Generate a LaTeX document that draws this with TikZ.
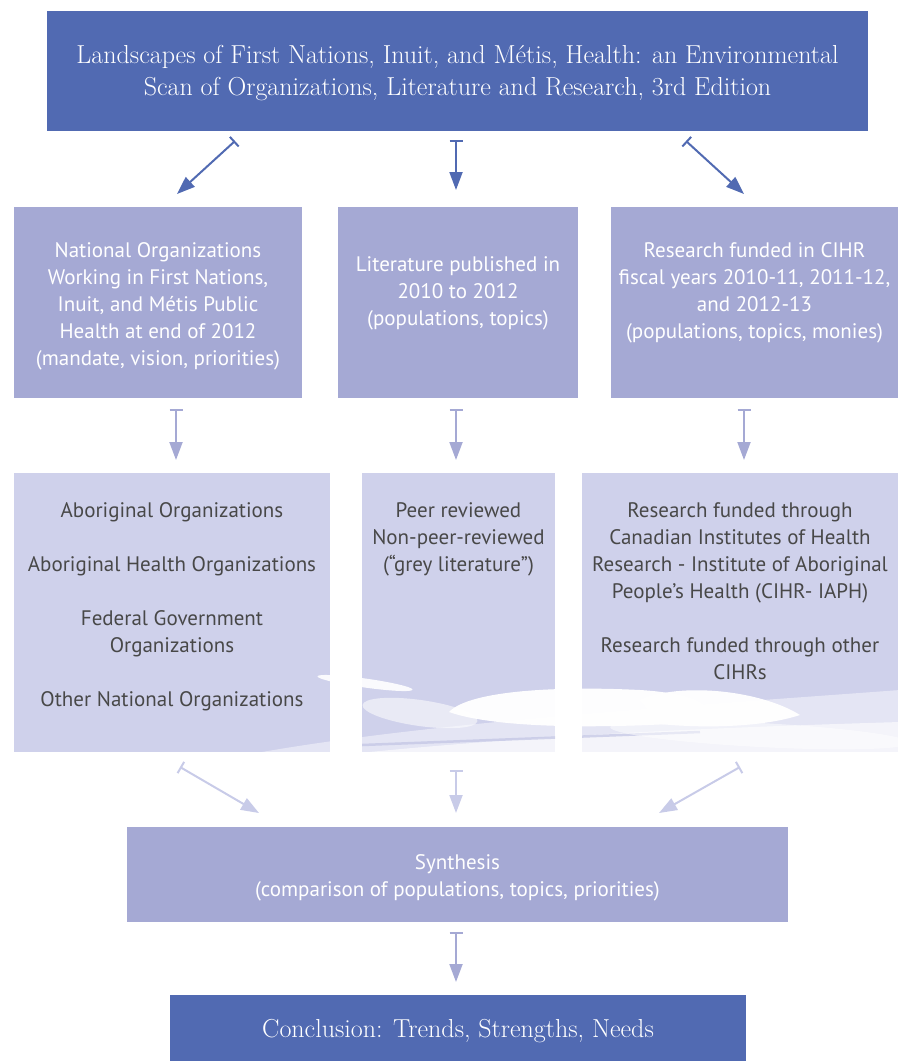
\documentclass[tikz,border=0pt]{standalone}
\usepackage{fontspec}
\setsansfont{PT Sans}
\usetikzlibrary{arrows.meta}
\definecolor{dkblue}{RGB}{81,106,178}
\definecolor{midblue}{RGB}{165,169,212}
\definecolor{ltblue}{RGB}{207,209,235}
\definecolor{palearrow}{RGB}{200,203,232}
\definecolor{txtgray}{RGB}{72,72,72}
\tikzset{
  boxr/.style={draw=none,inner sep=0pt,outer sep=0pt,rectangle},
  serift/.style={font=\fontsize{26}{32}\selectfont,text=white,align=center,inner sep=0pt},
  sanswhite/.style={font=\sffamily\fontsize{21}{27}\selectfont,text=white,align=center,inner sep=0pt},
  sansgray/.style={font=\sffamily\fontsize{21}{27}\selectfont,text=txtgray,align=center,inner sep=0pt},
  flowarrow/.style={line width=2pt,arrows={Bar[width=13pt]-Triangle[length=18pt,width=13pt]}},
}
\begin{document}
\begin{tikzpicture}[x=1pt,y=-1pt]
\useasboundingbox (0,0) rectangle (900,1061);
% boxes
\node[boxr,fill=dkblue,minimum width=821pt,minimum height=120pt,anchor=north west] (top) at (47,11) {};
\node[boxr,fill=midblue,minimum width=288pt,minimum height=191pt,anchor=north west] (l2) at (14,207) {};
\node[boxr,fill=midblue,minimum width=240pt,minimum height=191pt,anchor=north west] (m2) at (338,207) {};
\node[boxr,fill=midblue,minimum width=287pt,minimum height=191pt,anchor=north west] (r2) at (611,207) {};
\node[boxr,fill=ltblue,minimum width=316pt,minimum height=279pt,anchor=north west] (l3) at (14,473) {};
\node[boxr,fill=ltblue,minimum width=193pt,minimum height=279pt,anchor=north west] (m3) at (362,473) {};
\node[boxr,fill=ltblue,minimum width=316pt,minimum height=279pt,anchor=north west] (r3) at (582,473) {};
\node[boxr,fill=midblue,minimum width=661pt,minimum height=95pt,anchor=north west] (syn) at (127,827) {};
\node[boxr,fill=dkblue,minimum width=576pt,minimum height=68pt,anchor=north west] (con) at (170,995) {};
% feather decoration
\begin{scope}
\clip (l3.north west) rectangle (l3.south east)
      (m3.north west) rectangle (m3.south east)
      (r3.north west) rectangle (r3.south east);
\fill[white,opacity=0.45] (240,756) .. controls (420,722) and (700,705) .. (900,690) -- (900,756) -- cycle;
\fill[white,opacity=0.6] (330,756) .. controls (520,736) and (700,728) .. (900,722) -- (900,756) -- cycle;
\draw[palearrow!80!midblue,line width=2.5pt,opacity=0.7] (362,745) -- (700,732);
\fill[white,opacity=0.55,rotate around={-8:(420,713)}] (420,713) ellipse (58pt and 13pt);
\fill[white,opacity=0.97] (449,712) .. controls (470,690) and (560,686) .. (640,690)
   .. controls (690,693) and (720,705) .. (700,722) .. controls (620,728) and (500,730) .. cycle;
\fill[white,opacity=0.97] (640,700) .. controls (680,682) and (760,690) .. (800,715)
   .. controls (760,728) and (700,728) .. (660,724) -- cycle;
\fill[white,opacity=0.9,rotate around={-8:(365,683)}] (365,683) ellipse (48pt and 4.5pt);
\fill[white,opacity=0.5,rotate around={-3:(760,735)}] (760,735) ellipse (150pt and 12pt);
\end{scope}
% texts
\node[serift] (ttop) at (457.5,73) {Landscapes of First Nations, Inuit, and Métis, Health: an Environmental\\Scan of Organizations, Literature and Research, 3rd Edition};
\node[sanswhite] (tl2) at (158,306) {National Organizations\\Working in First Nations,\\Inuit, and Métis Public\\Health at end of 2012\\(mandate, vision, priorities)};
\node[sanswhite] (tm2) at (458,293) {Literature published in\\2010 to 2012\\(populations, topics)};
\node[sanswhite] (tr2) at (754.5,293) {Research funded in CIHR\\fiscal years 2010-11, 2011-12,\\and 2012-13\\(populations, topics, monies)};
\node[sansgray,anchor=north] (tl3) at (172,502) {Aboriginal Organizations\\[27pt]Aboriginal Health Organizations\\[27pt]Federal Government\\Organizations\\[27pt]Other National Organizations};
\node[sansgray,anchor=north] (tm3) at (458.5,502) {Peer reviewed\\Non-peer-reviewed\\(``grey literature'')};
\node[sansgray,anchor=north] (tr3) at (740,502) {Research funded through\\Canadian Institutes of Health\\Research - Institute of Aboriginal\\People’s Health (CIHR- IAPH)\\[27pt]Research funded through other\\CIHRs};
\node[sanswhite] (tsyn) at (457.5,878) {Synthesis\\(comparison of populations, topics, priorities)};
\node[serift] (tcon) at (458,1031) {Conclusion: Trends, Strengths, Needs};
% arrow coordinates
\coordinate (a1s) at (235,141); \coordinate (a1e) at (177,194);
\coordinate (a2s) at (456,140); \coordinate (a2e) at (456,190);
\coordinate (a3s) at (686,141); \coordinate (a3e) at (744,194);
\coordinate (b1s) at (176,409); \coordinate (b1e) at (176,460);
\coordinate (b2s) at (456,409); \coordinate (b2e) at (456,460);
\coordinate (b3s) at (744,409); \coordinate (b3e) at (744,460);
\coordinate (c1s) at (180,767); \coordinate (c1e) at (259,813);
\coordinate (c2s) at (456,770); \coordinate (c2e) at (456,813);
\coordinate (c3s) at (740,767); \coordinate (c3e) at (659,813);
\coordinate (d1s) at (456,932); \coordinate (d1e) at (456,982);
% arrows
\draw[flowarrow,dkblue] (a1s) -- (a1e);
\draw[flowarrow,dkblue] (a2s) -- (a2e);
\draw[flowarrow,dkblue] (a3s) -- (a3e);
\draw[flowarrow,midblue] (b1s) -- (b1e);
\draw[flowarrow,midblue] (b2s) -- (b2e);
\draw[flowarrow,midblue] (b3s) -- (b3e);
\draw[flowarrow,palearrow] (c1s) -- (c1e);
\draw[flowarrow,palearrow] (c2s) -- (c2e);
\draw[flowarrow,palearrow] (c3s) -- (c3e);
\draw[flowarrow,midblue] (d1s) -- (d1e);
\end{tikzpicture}
\end{document}
